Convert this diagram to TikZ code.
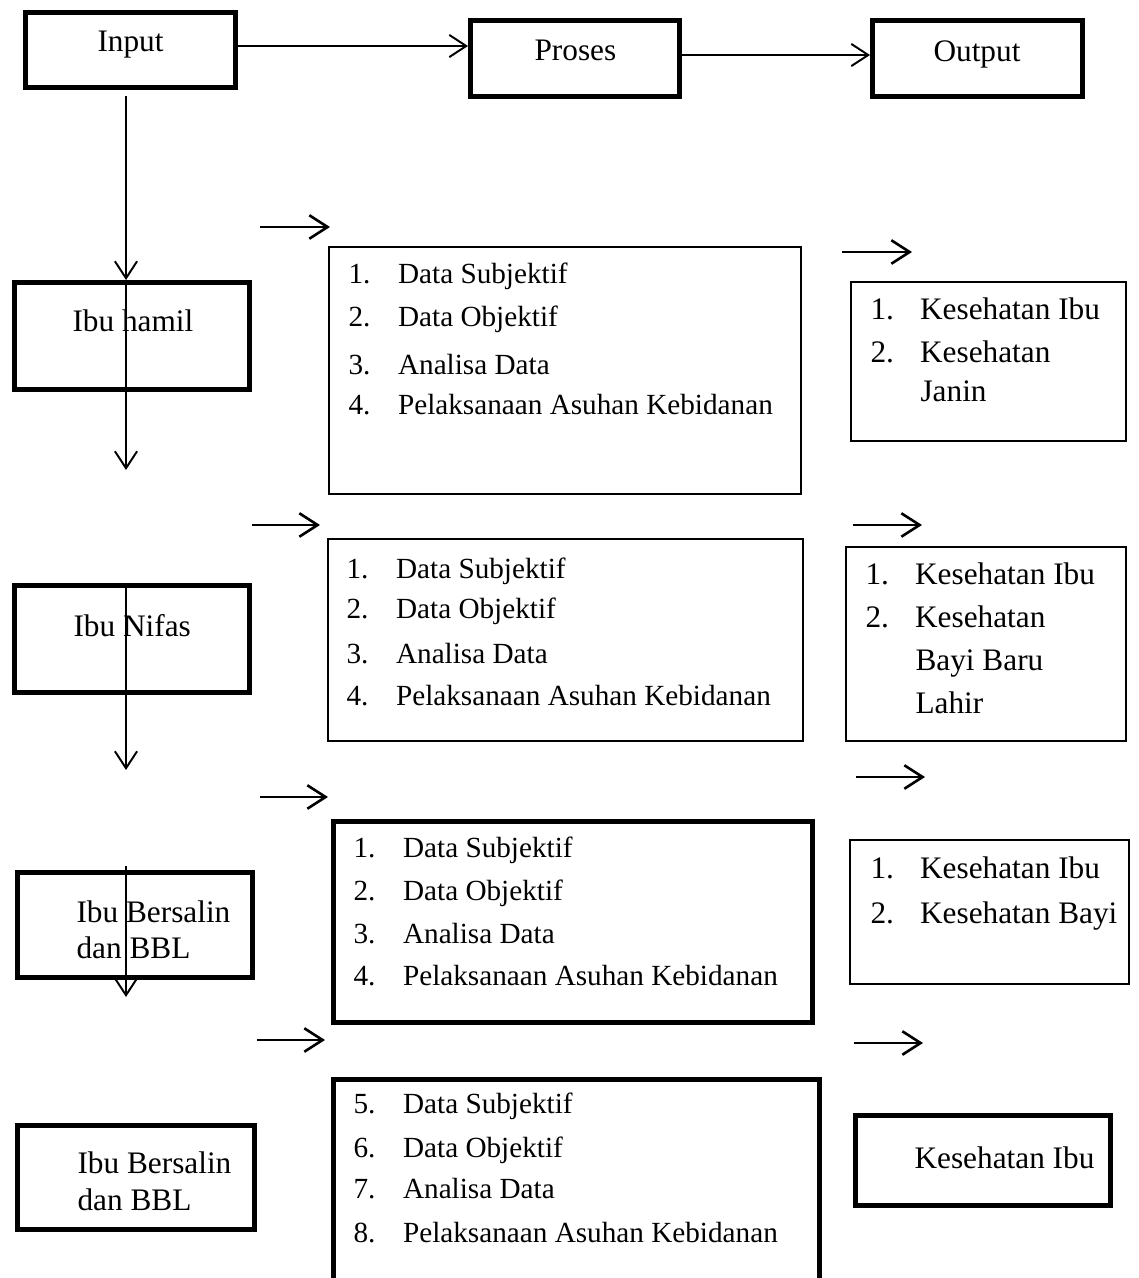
\documentclass[tikz,border=0pt]{standalone}
\usepackage{fontspec}
\setmainfont{Liberation Serif}
\usetikzlibrary{arrows.meta,fit}

\begin{document}
\begin{tikzpicture}[
    x=0.3834pt, y=-0.3834pt,
    heavy/.style={draw,line width=1.9pt,inner sep=0pt},
    light/.style={draw,line width=0.75pt,inner sep=0pt},
    word/.style={anchor=base west,inner sep=0pt,font=\fontsize{12pt}{14pt}\selectfont},
    lst/.style={anchor=base west,inner sep=0pt,font=\fontsize{11.2pt}{13pt}\selectfont},
    arrow/.style={-{Straight Barb[length=6.5pt,width=8.5pt]},line width=0.75pt},
    stub/.style={-{Straight Barb[length=7pt,width=9pt]},line width=1pt}
  ]
    \useasboundingbox (0,0) rectangle (1138,1278);

    % header row
    \node[heavy,fit={(25.5,12.5) (235.5,87.5)}] (input) {};
    \node[heavy,fit={(470.5,20.5) (679.5,96.5)}] (proses) {};
    \node[heavy,fit={(872.5,20.5) (1082.5,96.5)}] (output) {};
    \node[word] (inputtxt) at (97,52) {Input};
    \node[word] (prosestxt) at (534,61) {Proses};
    \node[word] (outputtxt) at (933,62) {Output};
    \draw[arrow] (inputtxt.mid east -| input.east) -- (inputtxt.mid east -| proses.west);
    \draw[arrow] (prosestxt.mid east -| proses.east) -- (prosestxt.mid east -| output.west);

    % input column
    \node[heavy,fit={(14.5,282.5) (249.5,389.5)}] (hamil) {};
    \node[heavy,fit={(14.5,585.5) (249.5,692.5)}] (nifas) {};
    \node[heavy,fit={(17.5,872.5) (252.5,977.5)}] (bersalin) {};
    \node[heavy,fit={(17.5,1125.5) (254.5,1229.5)}] (bbl) {};
    \node[word] (hamiltxt) at (72,332) {Ibu hamil};
    \node[word] (nifastxt) at (73,636) {Ibu Nifas};
    \node[word] (bersalintxt) at (76,922) {Ibu Bersalin};
    \node[word] (bersalintxtb) at (76,958) {dan BBL};
    \node[word] (bbltxt) at (77,1173) {Ibu Bersalin};
    \node[word] (bbltxtb) at (77,1210) {dan BBL};

    \coordinate (spine) at (126,0);
    \coordinate (hamiltip) at (126,470);
    \coordinate (nifastop) at (126,587);
    \coordinate (nifastip) at (126,770);
    \coordinate (bersalintop) at (126,866);
    \coordinate (bersalintip) at (126,997);
    \draw[arrow,shorten <=2.3pt] (input.south -| spine) -- (hamil.north -| spine);
    \draw[arrow] (hamil.north -| spine) -- (hamiltip);
    \draw[arrow] (nifastop) -- (nifastip);
    \draw[arrow] (bersalintop) -- (bersalintip);

    % proses column
    \node[light,fit={(329,247) (801,494)}] (hamilproc) {};
    \node[light,fit={(328,539) (803,741)}] (nifasproc) {};
    \node[heavy,fit={(333.5,821.5) (812.5,1022.5)}] (bersalinproc) {};
    \node[heavy,fit={(333.5,1079.5) (819.5,1292)}] (bblproc) {};

    \node[lst] (hp1) at (348,284) {\makebox[19pt][l]{1.}Data Subjektif};
    \node[lst] (hp2) at (348,327) {\makebox[19pt][l]{2.}Data Objektif};
    \node[lst] (hp3) at (348,375) {\makebox[19pt][l]{3.}Analisa Data};
    \node[lst] (hp4) at (348,415) {\makebox[19pt][l]{4.}Pelaksanaan Asuhan Kebidanan};

    \node[lst] (np1) at (346,578) {\makebox[19pt][l]{1.}Data Subjektif};
    \node[lst] (np2) at (346,618) {\makebox[19pt][l]{2.}Data Objektif};
    \node[lst] (np3) at (346,663) {\makebox[19pt][l]{3.}Analisa Data};
    \node[lst] (np4) at (346,705) {\makebox[19pt][l]{4.}Pelaksanaan Asuhan Kebidanan};

    \node[lst] (bp1) at (353,857) {\makebox[19pt][l]{1.}Data Subjektif};
    \node[lst] (bp2) at (353,900) {\makebox[19pt][l]{2.}Data Objektif};
    \node[lst] (bp3) at (353,943) {\makebox[19pt][l]{3.}Analisa Data};
    \node[lst] (bp4) at (353,985) {\makebox[19pt][l]{4.}Pelaksanaan Asuhan Kebidanan};

    \node[lst] (lp1) at (353,1113) {\makebox[19pt][l]{5.}Data Subjektif};
    \node[lst] (lp2) at (353,1157) {\makebox[19pt][l]{6.}Data Objektif};
    \node[lst] (lp3) at (353,1198) {\makebox[19pt][l]{7.}Analisa Data};
    \node[lst] (lp4) at (353,1242) {\makebox[19pt][l]{8.}Pelaksanaan Asuhan Kebidanan};

    % output column
    \node[light,fit={(851,282) (1126,441)}] (hamilout) {};
    \node[light,fit={(846,547) (1126,741)}] (nifasout) {};
    \node[light,fit={(850,840) (1129,984)}] (bersalinout) {};
    \node[heavy,fit={(855.5,1115.5) (1110.5,1205.5)}] (bblout) {};

    \node[word] (ho1) at (870,320) {\makebox[19pt][l]{1.}Kesehatan Ibu};
    \node[word] (ho2) at (870,363) {\makebox[19pt][l]{2.}Kesehatan};
    \node[word] (ho3) at (920,402) {Janin};

    \node[word] (no1) at (865,584) {\makebox[19pt][l]{1.}Kesehatan Ibu};
    \node[word] (no2) at (865,627) {\makebox[19pt][l]{2.}Kesehatan};
    \node[word] (no3) at (915,670) {Bayi Baru};
    \node[word] (no4) at (915,713) {Lahir};

    \node[word] (bo1) at (870,878) {\makebox[19pt][l]{1.}Kesehatan Ibu};
    \node[word] (bo2) at (870,923) {\makebox[19pt][l]{2.}Kesehatan Bayi};

    \node[word] (lo1) at (914,1168) {Kesehatan Ibu};

    % loose arrows between the columns
    \coordinate (hamilin) at (260,227);
    \coordinate (hamilinend) at (330,227);
    \coordinate (nifasin) at (252,525);
    \coordinate (nifasinend) at (320,525);
    \coordinate (bersalinin) at (260,797);
    \coordinate (bersalininend) at (328,797);
    \coordinate (bblin) at (257,1040);
    \coordinate (bblinend) at (325,1040);
    \coordinate (hamilres) at (842,252);
    \coordinate (hamilresend) at (912,252);
    \coordinate (nifasres) at (853,525);
    \coordinate (nifasresend) at (922,525);
    \coordinate (bersalinres) at (856,777);
    \coordinate (bersalinresend) at (925,777);
    \coordinate (bblres) at (854,1043);
    \coordinate (bblresend) at (923,1043);
    \draw[stub] (hamilin) -- (hamilinend);
    \draw[stub] (nifasin) -- (nifasinend);
    \draw[stub] (bersalinin) -- (bersalininend);
    \draw[stub] (bblin) -- (bblinend);
    \draw[stub] (hamilres) -- (hamilresend);
    \draw[stub] (nifasres) -- (nifasresend);
    \draw[stub] (bersalinres) -- (bersalinresend);
    \draw[stub] (bblres) -- (bblresend);
  \end{tikzpicture}
\end{document}
